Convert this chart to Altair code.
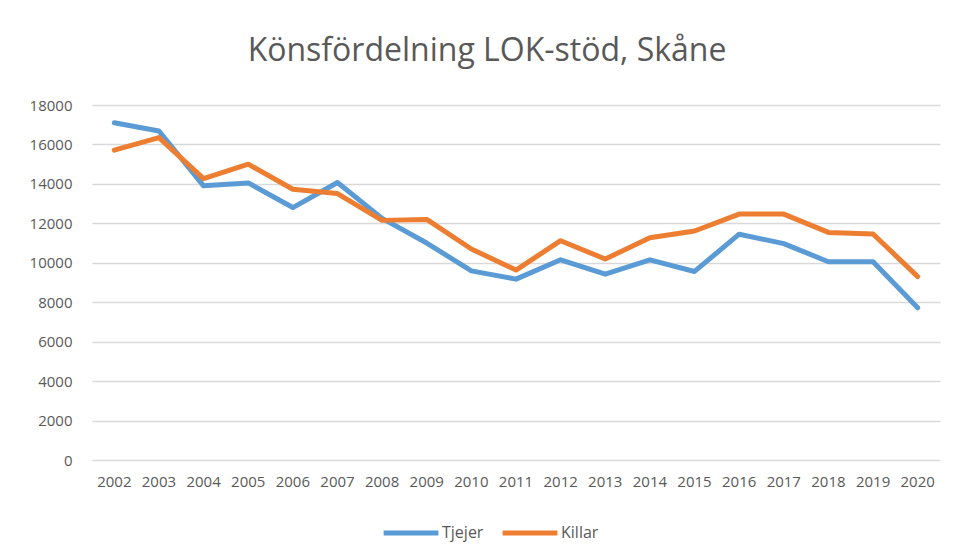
import altair as alt
import pandas as pd

years = [str(y) for y in range(2002, 2021)]
tjejer = [17100, 16680, 13900, 14050, 12800, 14070, 12250, 11000, 9590, 9170,
          10150, 9420, 10150, 9560, 11450, 10970, 10050, 10050, 7720]
killar = [15710, 16350, 14270, 15000, 13730, 13510, 12150, 12200, 10700, 9630,
          11120, 10190, 11270, 11610, 12470, 12470, 11540, 11460, 9300]
series = ["Tjejer", "Killar"]
colors = ["#5B9BD5", "#ED7D31"]
y_ticks = list(range(0, 18001, 2000))

rows = []
for name, vals in zip(series, [tjejer, killar]):
    for yr, v in zip(years, vals):
        rows.append({"År": yr, "Antal": v, "Serie": name})
df = pd.DataFrame(rows)

FONT = "Open Sans"
GREY = "#595959"

chart = alt.Chart(df).mark_line(strokeWidth=5, strokeCap="round", strokeJoin="round").encode(
    x=alt.X("År:O", sort=years,
            scale=alt.Scale(type="band", paddingInner=0, paddingOuter=0),
            axis=alt.Axis(title=None, labelAngle=0, labelFontSize=15, labelColor=GREY,
                          labelFont=FONT, ticks=False, domain=False, labelPadding=14,
                          bandPosition=0.5)),
    y=alt.Y("Antal:Q", scale=alt.Scale(domain=[0, 18000], nice=False),
            axis=alt.Axis(title=None, values=y_ticks, format="d", labelFontSize=15,
                          labelColor=GREY, labelFont=FONT, ticks=False, domain=False,
                          labelPadding=20, gridColor="#D9D9D9", gridWidth=1.3)),
    color=alt.Color("Serie:N", sort=series,
                    scale=alt.Scale(domain=series, range=colors),
                    legend=alt.Legend(title=None, orient="none", direction="horizontal",
                                      legendX=289, legendY=398,
                                      symbolType="stroke", symbolSize=3000,
                                      symbolStrokeWidth=5, labelFontSize=16,
                                      labelColor=GREY, labelFont=FONT,
                                      columnPadding=8, labelOffset=1)),
).properties(
    width=848,
    height=355,
    title=alt.Title("Könsfördelning LOK-stöd, Skåne", fontSize=32, font=FONT,
                    color=GREY, fontWeight="normal", anchor="middle", offset=30, dx=-29),
    autosize=alt.AutoSizeParams(type="none"),
    padding={"left": 84, "top": 97, "right": 9, "bottom": 90},
).configure_view(stroke=None)

chart.save("out.html", embed_options={"renderer": "svg", "actions": False})
